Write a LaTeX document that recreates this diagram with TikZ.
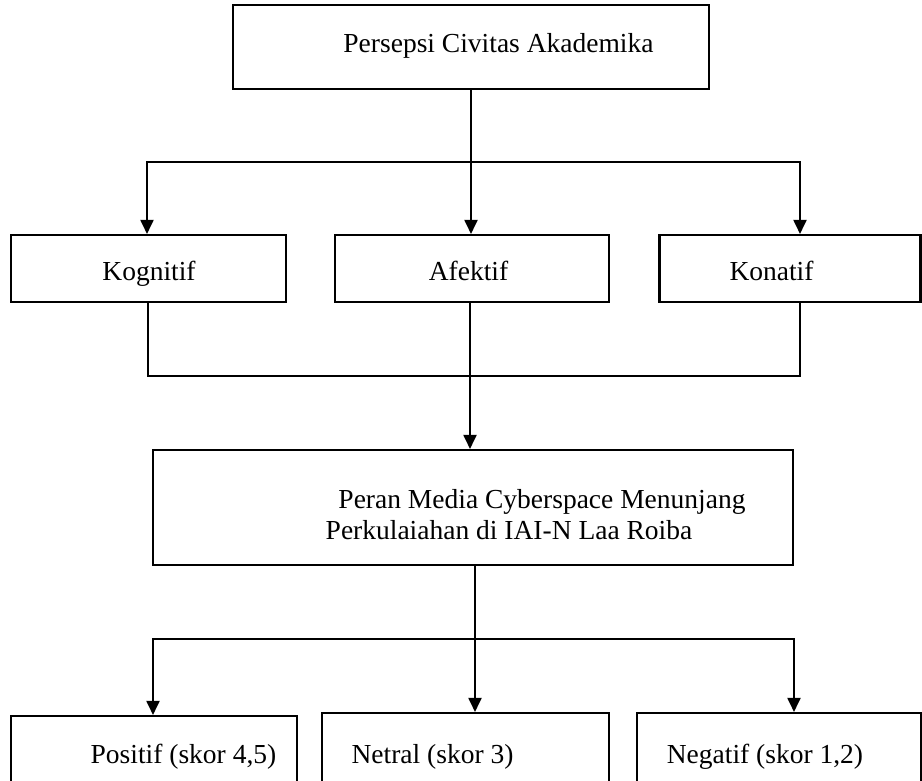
\documentclass[tikz,border=0pt]{standalone}
\usepackage{fontspec}
\setmainfont{Liberation Serif}
\usetikzlibrary{arrows.meta}
\begin{document}
\begin{tikzpicture}[x=1pt,y=-1pt,
  box/.style={draw, line width=2.1pt, inner sep=0pt, minimum width=#1},
  lbl/.style={anchor=base, inner sep=0pt, font=\fontsize{27.5}{31}\selectfont},
  conn/.style={line width=1.9pt},
  arr/.style={conn, -{Triangle[width=13pt,length=14pt]}}]
\path[use as bounding box, clip] (0,0) rectangle (922,780);
% boxes
\node[box=476pt, minimum height=84pt] (top) at (471,47) {};
\node[box=275pt, minimum height=67pt] (kog) at (148.5,268.5) {};
\node[box=274pt, minimum height=67pt] (afe) at (472,268.5) {};
\node[box=261pt, minimum height=67pt] (kon) at (790,268.5) {};
\node[box=640pt, minimum height=115pt] (big) at (473,507.5) {};
\node[box=286pt, minimum height=90pt] (pos) at (154,761) {};
\node[box=287pt, minimum height=94pt] (net) at (465.5,760) {};
\node[box=284pt, minimum height=94pt] (neg) at (779,760) {};
% labels
\node[lbl] (tTop) at (498.5,52) {Persepsi Civitas Akademika};
\node[lbl] (tKog) at (149,280) {Kognitif};
\node[lbl] (tAfe) at (468.5,280) {Afektif};
\node[lbl] (tKon) at (771.5,280) {Konatif};
\node[lbl] (tBig1) at (542,508) {Peran Media Cyberspace Menunjang};
\node[lbl] (tBig2) at (509,539) {Perkulaiahan di IAI-N Laa Roiba};
\node[lbl] (tPos) at (183.5,763) {Positif (skor 4,5)};
\node[lbl] (tNet) at (432.5,763) {Netral (skor 3)};
\node[lbl] (tNeg) at (765,763) {Negatif (skor 1,2)};
% junction coordinates
\coordinate (j1) at (471,162);
\coordinate (x147) at (147,0);
\coordinate (x800) at (800,0);
\coordinate (j2) at (470,376);
\coordinate (x148) at (148,0);
\coordinate (j3) at (475,639);
\coordinate (x153) at (153,0);
\coordinate (x794) at (794,0);
% top fan-out
\draw[conn] (top.south -| j1) -- (j1);
\draw[arr] (j1) -| (kog.north -| x147);
\draw[arr] (j1) -- (afe.north -| j1);
\draw[arr] (j1) -| (kon.north -| x800);
% middle join
\draw[conn] (kog.south -| x148) |- (j2);
\draw[conn] (kon.south -| x800) |- (j2);
\draw[arr] (afe.south -| j2) -- (big.north -| j2);
% bottom fan-out
\draw[conn] (big.south -| j3) -- (j3);
\draw[arr] (j3) -| (pos.north -| x153);
\draw[arr] (j3) -- (net.north -| j3);
\draw[arr] (j3) -| (neg.north -| x794);
\end{tikzpicture}
\end{document}
